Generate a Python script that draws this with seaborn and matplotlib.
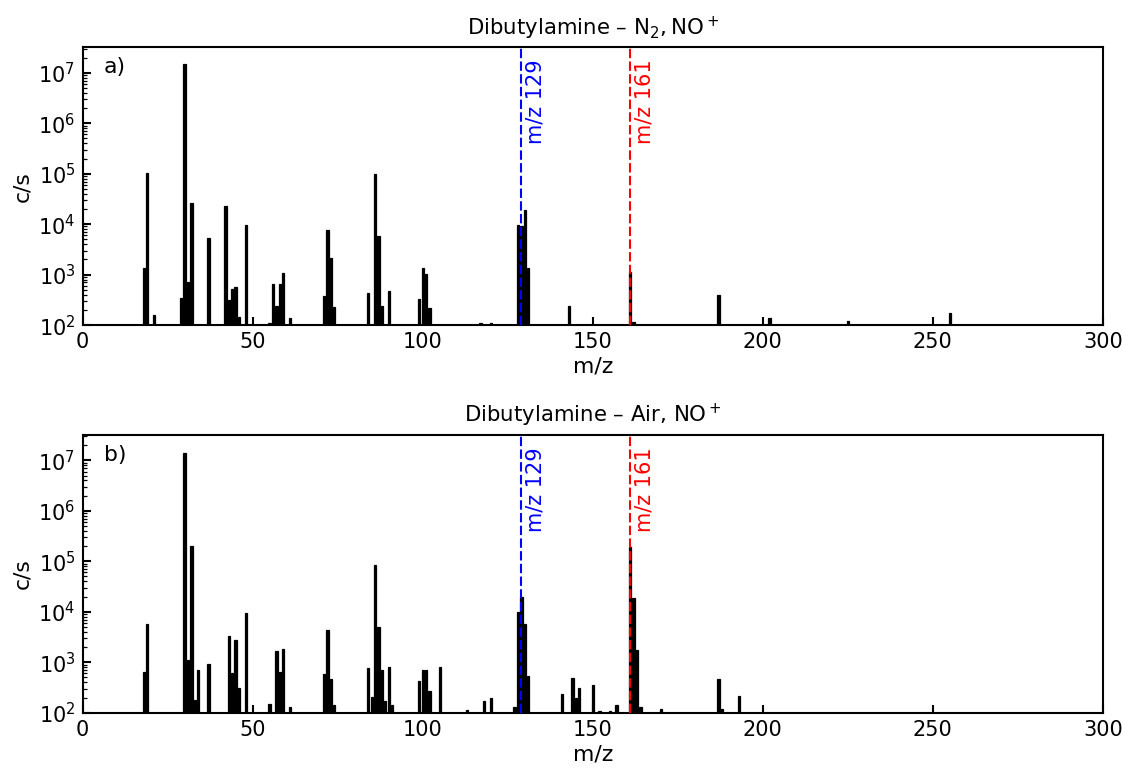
import matplotlib
matplotlib.use("Agg")
import matplotlib.pyplot as plt
import matplotlib.transforms as mtransforms
from matplotlib.ticker import LogLocator, NullFormatter
import seaborn as sns
import pandas as pd

# NO+ reagent ion spectra of dibutylamine, counts per second vs m/z
mz_n2 = [18, 19, 21, 29, 30, 31, 32, 37, 42, 43, 44, 45, 46, 48, 55, 56, 57, 58, 59, 61,
         71, 72, 73, 74, 84, 86, 87, 88, 90, 99, 100, 101, 102, 117, 120,
         128, 129, 130, 131, 143, 161, 162, 187, 202, 225, 255]
cps_n2 = [1370, 1.03e5, 160, 350, 1.47e7, 730, 2.6e4, 5400, 2.25e4, 311, 513, 580, 148, 9700,
          108, 664, 240, 664, 1060, 137,
          378, 7700, 2160, 230, 440, 9.8e4, 5700, 234, 475, 336, 1375, 1010, 216, 111, 111,
          9500, 9000, 1.88e4, 1350, 240, 1125, 116, 403, 137, 118, 170]

mz_air = [18, 19, 30, 31, 32, 33, 34, 37, 43, 44, 45, 46, 48, 55, 57, 58, 59, 61,
          71, 72, 73, 74, 84, 85, 86, 87, 88, 89, 90, 91, 99, 100, 101, 102, 105,
          113, 118, 120, 127, 128, 129, 130, 131, 141, 144, 145, 146, 150, 152, 155, 157,
          161, 162, 163, 164, 170, 187, 188, 193]
cps_air = [644, 5600, 1.39e7, 1100, 2.0e5, 178, 695, 940, 3360, 600, 2720, 311, 9400,
           149, 1670, 644, 1800, 131,
           580, 4280, 462, 142, 773, 207, 8.45e4, 4900, 695, 172, 822, 142, 422, 695, 717, 264, 822,
           111, 172, 198, 131, 9800, 2.0e4, 5800, 546, 231, 490, 192, 311, 356, 110, 110, 140,
           1.9e5, 1.85e4, 1750, 130, 118, 469, 118, 216]

titles = ["Dibutylamine – $\\mathregular{N_2, NO^+}$", "Dibutylamine – Air, $\\mathregular{NO^+}$"]
panel_tags = ["a)", "b)"]
marker_mz = [129, 161]
marker_colors = ["#0000ff", "#ff0000"]
marker_labels = ["m/z 129", "m/z 161"]

sns.set_style("ticks")
plt.rcParams.update({
    "font.family": ["DejaVu Sans"],
    "font.size": 10,
    "text.color": "black",
    "axes.labelcolor": "black",
    "axes.linewidth": 1.0,
    "xtick.direction": "in",
    "ytick.direction": "in",
    "xtick.major.size": 4,
    "ytick.major.size": 4,
    "xtick.minor.size": 2,
    "ytick.minor.size": 2,
    "xtick.major.width": 1.0,
    "ytick.major.width": 1.0,
    "ytick.minor.width": 0.6,
    "xtick.labelsize": 10,
    "ytick.labelsize": 10,
    "axes.labelsize": 10.5,
    "axes.titlesize": 10.2,
    "axes.edgecolor": "black",
    "xtick.color": "black",
    "ytick.color": "black",
    "xtick.labelcolor": "black",
    "ytick.labelcolor": "black",
})

fig, axes = plt.subplots(2, 1, figsize=(1123 / 150, 771 / 150), dpi=150)
fig.subplots_adjust(left=0.0736, right=0.982, top=0.9387, bottom=0.0756, hspace=0.395)

spectra = [(mz_n2, cps_n2), (mz_air, cps_air)]
for ax, (mz, cps), title, tag in zip(axes, spectra, titles, panel_tags):
    ax.set_yscale("log")
    df = pd.DataFrame({"mz": mz, "cps": cps})
    sns.barplot(data=df, x="mz", y="cps", native_scale=True, width=0.7,
                color="black", edgecolor="black", linewidth=0.6,
                errorbar=None, ax=ax, zorder=2)
    ax.set_xlim(0, 300)
    ax.set_ylim(100, 3.2e7)
    ax.set_xticks([0, 50, 100, 150, 200, 250, 300])
    ax.yaxis.set_major_locator(LogLocator(base=10, numticks=10))
    ax.yaxis.set_minor_locator(LogLocator(base=10, subs=range(2, 10), numticks=20))
    ax.yaxis.set_minor_formatter(NullFormatter())
    ax.tick_params(top=False, right=False, which="both")
    ax.set_xlabel("m/z", labelpad=2)
    ax.set_ylabel("c/s", labelpad=3)
    ax.set_title(title, pad=6, color="black")
    ax.text(0.021, 0.965, tag, transform=ax.transAxes, ha="left", va="top",
            fontsize=10.5, color="black")
    for spine in ax.spines.values():
        spine.set_visible(True)
        spine.set_linewidth(1.0)

    trans = mtransforms.blended_transform_factory(ax.transData, ax.transAxes)
    for xm, col, lab in zip(marker_mz, marker_colors, marker_labels):
        ax.axvline(xm, color=col, linestyle=(0, (4.5, 1.6)), linewidth=1.0, zorder=3)
        ax.text(xm + 1.3, 0.955, lab, transform=trans, rotation=90, color=col,
                ha="left", va="top", fontsize=10)

fig.savefig("out.png", dpi=150)
